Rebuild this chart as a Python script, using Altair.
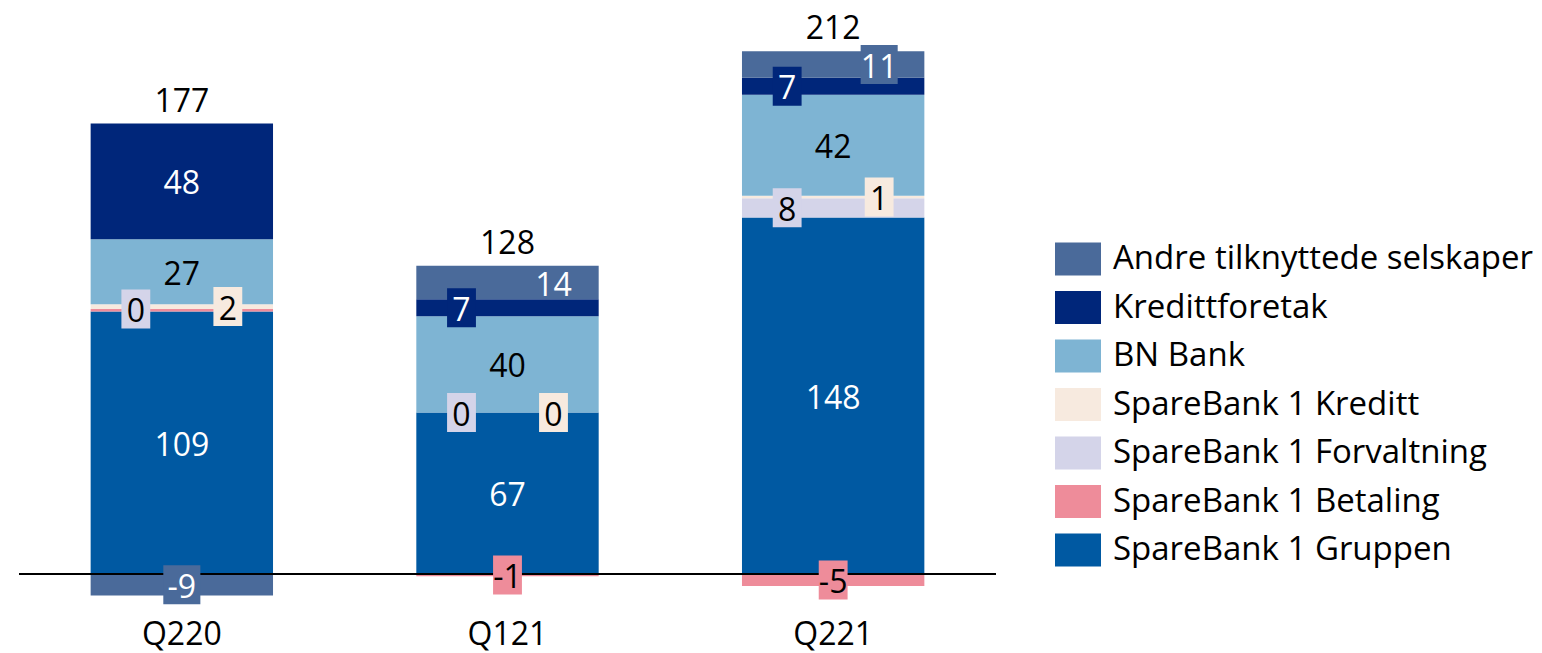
import altair as alt
import pandas as pd

quarters = ["Q220", "Q121", "Q221"]
series = ["SpareBank 1 Gruppen", "SpareBank 1 Betaling", "SpareBank 1 Forvaltning",
          "SpareBank 1 Kreditt", "BN Bank", "Kredittforetak", "Andre tilknyttede selskaper"]
colors = ["#0059A2", "#EE8C9A", "#D4D4E9", "#F7EADF", "#7EB4D3", "#00267A", "#4A6A9A"]
text_colors = ["white", "black", "black", "black", "black", "white", "white"]

gruppen = [109, 67, 148]
betaling = [1, -1, -5]
forvaltning = [0, 0, 8]
kreditt = [2, 0, 1]
bn_bank = [27, 40, 42]
kredittforetak = [48, 7, 7]
andre = [-9, 14, 11]
totals = [177, 128, 212]

# label placement per series and quarter: L/C/R (or "" for none), box: "", "n", "w"
label_pos = [["C", "C", "C"], ["", "C", "C"], ["L", "L", "L"], ["R", "R", "R"],
             ["C", "C", "C"], ["C", "L", "L"], ["C", "R", "R"]]
label_box = [["", "", ""], ["", "n", "n"], ["n", "n", "n"], ["n", "n", "n"],
             ["", "", ""], ["", "n", "n"], ["w", "", "w"]]

values = [gruppen, betaling, forvaltning, kreditt, bn_bank, kredittforetak, andre]

rows = []
for qi, q in enumerate(quarters):
    pos_c, neg_c = 0.0, 0.0
    for si, s in enumerate(series):
        v = values[si][qi]
        if v >= 0:
            start = pos_c
            pos_c += v
        else:
            start = neg_c
            neg_c += v
        rows.append(dict(q=q, series=s, idx=si, value=v, mid=start + v / 2,
                         label=str(v), pos=label_pos[si][qi], box=label_box[si][qi],
                         col=colors[si], tc=text_colors[si]))
df = pd.DataFrame(rows)

tops = df[df.value > 0].groupby("q")["value"].sum()
tot_df = pd.DataFrame({"q": quarters, "total": totals, "top": [tops[q] for q in quarters]})

FONT = "Open Sans"
xs = alt.X("q:N", sort=quarters, title=None,
           scale=alt.Scale(paddingInner=0.44, paddingOuter=0.22),
           axis=alt.Axis(labelFontSize=32, labelFont=FONT, labelColor="black", labelAngle=0,
                         domain=False, ticks=False, labelPadding=9))
yscale = alt.Scale(domain=[-15, 235], nice=False, zero=False)

swatch = "M-1,-0.717H1V0.717H-1Z"
bars = alt.Chart(df).mark_bar().encode(
    x=xs,
    y=alt.Y("value:Q", stack="zero", scale=yscale, axis=None),
    color=alt.Color("series:N",
                    scale=alt.Scale(domain=list(reversed(series)), range=list(reversed(colors))),
                    legend=alt.Legend(title=None, orient="none", legendX=1036, legendY=228,
                                      symbolType=swatch, symbolSize=2116, symbolStrokeWidth=0,
                                      labelFontSize=33, labelFont=FONT, labelColor="black",
                                      rowPadding=8.5, labelOffset=12, padding=0, labelLimit=0)),
    order=alt.Order("idx:Q"),
)

rule = alt.Chart(df).mark_rule(color="black", strokeWidth=1.5).encode(y=alt.datum(0))

offsets = {"L": -46, "C": 0, "R": 46}
box_shapes = {"n": "M-0.74,-1H0.74V1H-0.74Z", "w": "M-0.95,-1H0.95V1H-0.95Z"}

layers = [bars, rule]
for p, off in offsets.items():
    for b, shp in box_shapes.items():
        layers.append(
            alt.Chart(df).transform_filter((alt.datum.pos == p) & (alt.datum.box == b))
            .mark_point(shape=shp, size=1521, filled=True, opacity=1, strokeWidth=0, xOffset=off)
            .encode(x=alt.X("q:N", sort=quarters), y=alt.Y("mid:Q", scale=yscale),
                    fill=alt.Fill("col:N", scale=None))
        )
for p, off in offsets.items():
    layers.append(
        alt.Chart(df).transform_filter(alt.datum.pos == p)
        .mark_text(fontSize=32, font=FONT, baseline="middle", dx=off, dy=3)
        .encode(x=alt.X("q:N", sort=quarters), y=alt.Y("mid:Q", scale=yscale),
                text="label:N", fill=alt.Fill("tc:N", scale=None))
    )

tot = alt.Chart(tot_df).mark_text(fontSize=32, font=FONT, baseline="alphabetic", dy=-12,
                                  color="black").encode(
    x=alt.X("q:N", sort=quarters), y=alt.Y("top:Q", scale=yscale), text="total:Q")
layers.append(tot)

chart = alt.layer(*layers).properties(
    width=977, height=602,
    padding={"left": 10, "top": 0, "right": 0, "bottom": 12},
).configure_view(stroke=None)

chart.save("out.html", embed_options={"renderer": "svg", "actions": False})
